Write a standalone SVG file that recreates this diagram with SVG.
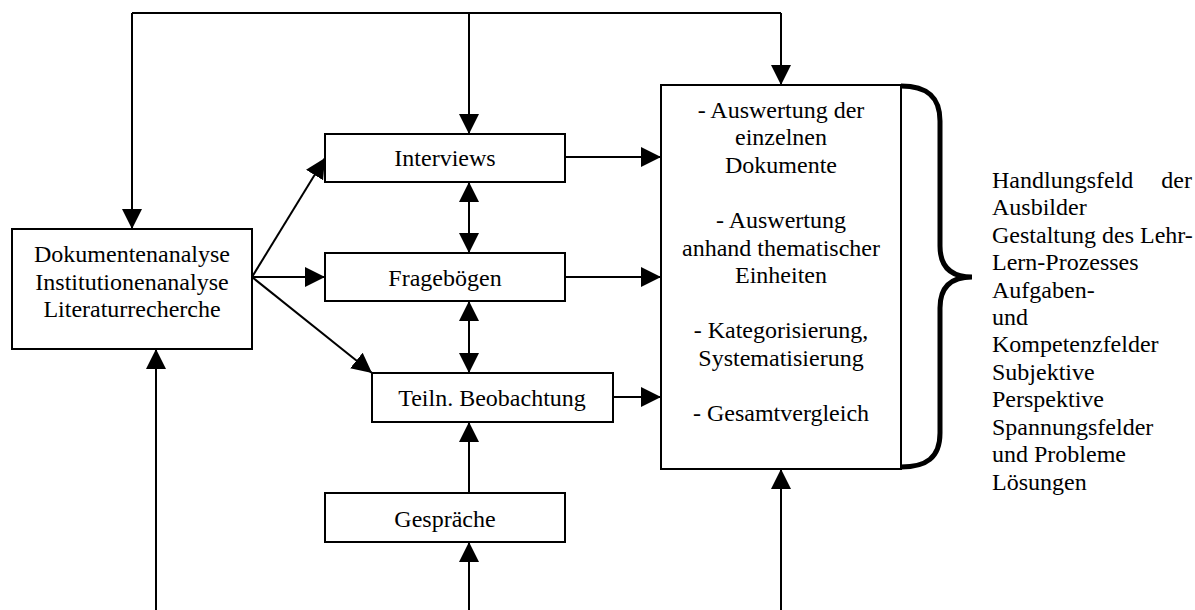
<svg xmlns="http://www.w3.org/2000/svg" width="1195" height="610" viewBox="0 0 1195 610">
  <defs>
    <style>
      .box { fill: #fff; stroke: #000; stroke-width: 2; }
      .line { fill: none; stroke: #000; stroke-width: 2; }
      .t { font-family: "Liberation Serif", "Times New Roman", serif; font-size: 24px; fill: #000; }
      .c { text-anchor: middle; }
    </style>
    <marker id="ah" viewBox="0 0 20 20" refX="20" refY="10" markerWidth="20" markerHeight="20" markerUnits="userSpaceOnUse" orient="auto-start-reverse">
      <path d="M0,0 L20,10 L0,20 Z" fill="#000"/>
    </marker>
  </defs>
  <rect width="1195" height="610" fill="#fff"/>

  <!-- connectors -->
  <g id="connectors" class="line">
    <!-- top feedback line -->
    <polyline points="132,13 781,13"/>
    <line x1="132" y1="13" x2="132" y2="229" marker-end="url(#ah)"/>
    <line x1="469" y1="13" x2="469" y2="134" marker-end="url(#ah)"/>
    <line x1="781" y1="13" x2="781" y2="85" marker-end="url(#ah)"/>
    <!-- from document analysis -->
    <line x1="252" y1="277" x2="325" y2="158" marker-end="url(#ah)"/>
    <line x1="252" y1="277" x2="325" y2="277" marker-end="url(#ah)"/>
    <line x1="252" y1="277" x2="372" y2="373" marker-end="url(#ah)"/>
    <!-- into evaluation -->
    <line x1="565" y1="157" x2="661" y2="157" marker-end="url(#ah)"/>
    <line x1="565" y1="277" x2="661" y2="277" marker-end="url(#ah)"/>
    <line x1="613" y1="397" x2="661" y2="397" marker-end="url(#ah)"/>
    <!-- between methods -->
    <line x1="469" y1="182" x2="469" y2="253" marker-start="url(#ah)" marker-end="url(#ah)"/>
    <line x1="469" y1="301" x2="469" y2="373" marker-start="url(#ah)" marker-end="url(#ah)"/>
    <line x1="469" y1="493" x2="469" y2="422" marker-end="url(#ah)"/>
    <!-- from below -->
    <line x1="156" y1="612" x2="156" y2="349" marker-end="url(#ah)"/>
    <line x1="469" y1="612" x2="469" y2="542" marker-end="url(#ah)"/>
    <line x1="781" y1="612" x2="781" y2="469" marker-end="url(#ah)"/>
  </g>

  <g id="dokumentenanalyse">
    <rect class="box" x="12" y="229" width="240" height="120"/>
    <text class="t c" x="132" y="262">Dokumentenanalyse</text>
    <text class="t c" x="132" y="290">Institutionenanalyse</text>
    <text class="t c" x="132" y="317">Literaturrecherche</text>
  </g>

  <g id="interviews">
    <rect class="box" x="325" y="134" width="240" height="48"/>
    <text class="t c" x="445" y="166">Interviews</text>
  </g>

  <g id="frageboegen">
    <rect class="box" x="325" y="253" width="240" height="48"/>
    <text class="t c" x="445" y="286">Fragebögen</text>
  </g>

  <g id="beobachtung">
    <rect class="box" x="372" y="373" width="241" height="49"/>
    <text class="t c" x="492" y="406">Teiln. Beobachtung</text>
  </g>

  <g id="gespraeche">
    <rect class="box" x="325" y="493" width="240" height="49"/>
    <text class="t c" x="445" y="527">Gespräche</text>
  </g>

  <g id="auswertung">
    <rect class="box" x="661" y="85" width="240" height="384"/>
    <text class="t c" x="781" y="118">- Auswertung der</text>
    <text class="t c" x="781" y="145">einzelnen</text>
    <text class="t c" x="781" y="173">Dokumente</text>
    <text class="t c" x="781" y="228">- Auswertung</text>
    <text class="t c" x="781" y="256">anhand thematischer</text>
    <text class="t c" x="781" y="283">Einheiten</text>
    <text class="t c" x="781" y="338">- Kategorisierung,</text>
    <text class="t c" x="781" y="366">Systematisierung</text>
    <text class="t c" x="781" y="421">- Gesamtvergleich</text>
  </g>

  <g id="klammer">
    <path d="M901,86 C926,86 940,96 940,121 L940,246 C940,266 950,277 972,277 C950,277 940,288 940,308 L940,433 C940,458 926,467 901,467" fill="none" stroke="#000" stroke-width="5"/>
  </g>

  <g id="ergebnisse">
    <text class="t" x="992" y="188">Handlungsfeld</text>
    <text class="t" x="1192" y="188" text-anchor="end">der</text>
    <text class="t" x="992" y="215">Ausbilder</text>
    <text class="t" x="992" y="243">Gestaltung des Lehr-</text>
    <text class="t" x="992" y="270">Lern-Prozesses</text>
    <text class="t" x="992" y="298">Aufgaben-</text>
    <text class="t" x="992" y="325">und</text>
    <text class="t" x="992" y="352">Kompetenzfelder</text>
    <text class="t" x="992" y="380">Subjektive</text>
    <text class="t" x="992" y="407">Perspektive</text>
    <text class="t" x="992" y="435">Spannungsfelder</text>
    <text class="t" x="992" y="462">und Probleme</text>
    <text class="t" x="992" y="490">Lösungen</text>
  </g>
</svg>
